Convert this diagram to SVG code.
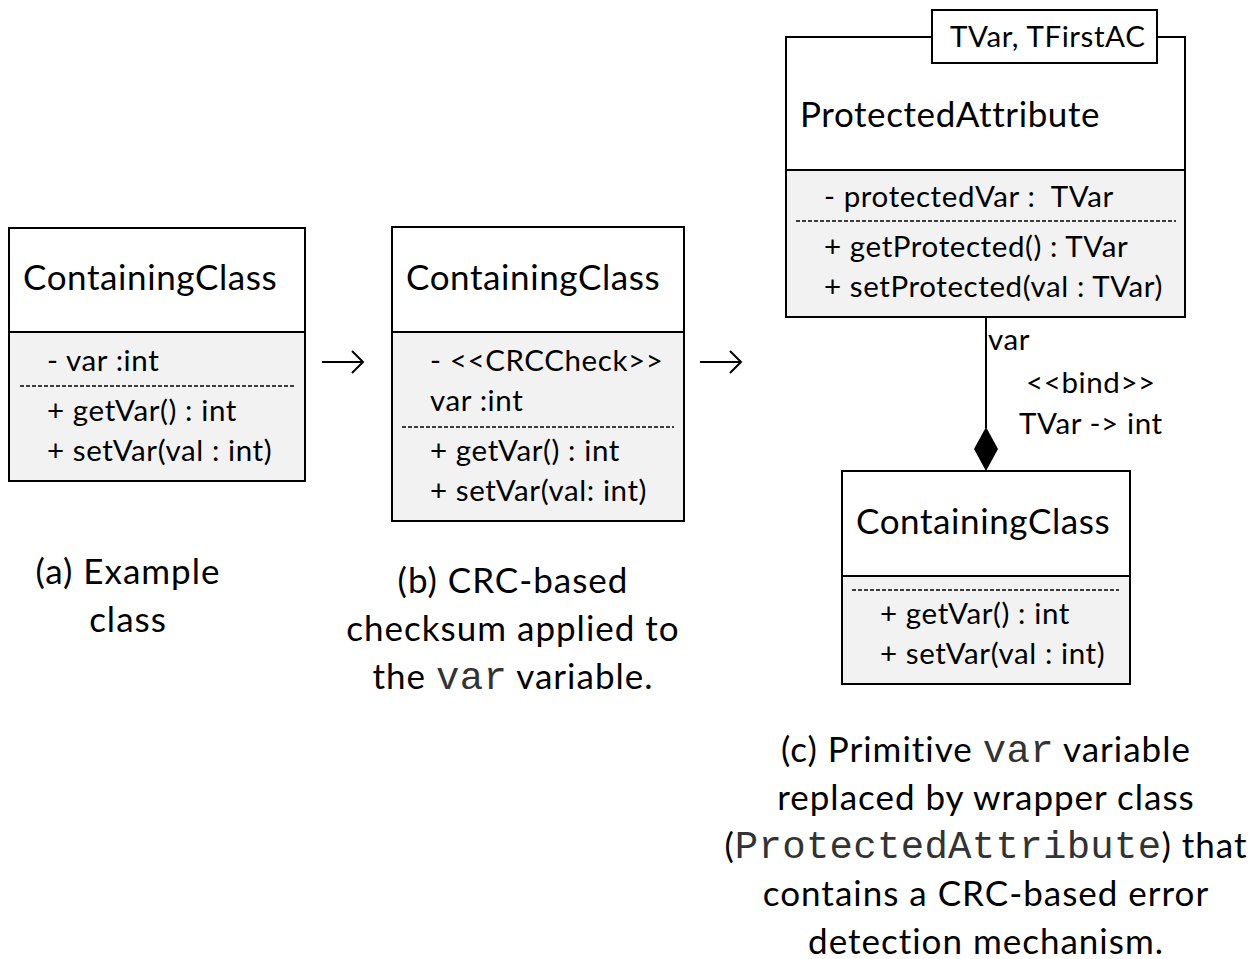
<svg xmlns="http://www.w3.org/2000/svg" width="1255" height="959" viewBox="0 0 1255 959">
<style>
text{font-family:Lato,"Open Sans",sans-serif;fill:#000;font-variant-ligatures:none}
.t{font-size:35px;letter-spacing:0.6px}
.m{font-size:29.5px;letter-spacing:0.6px;white-space:pre}
.cap{font-size:35px;letter-spacing:1px;text-anchor:middle}
.mono{font-family:"Liberation Mono","Courier New",monospace;fill:#333;letter-spacing:0.3px;font-size:39px}
.box{fill:#fff;stroke:#000;stroke-width:2}
.cmp{fill:#f2f2f2;stroke:#000;stroke-width:2}
.dash{stroke:#000;stroke-width:1.5;stroke-dasharray:4 2;fill:none}
.arr{stroke:#000;stroke-width:2;fill:none}
</style>
<g id="classA">
<rect class="box" x="9" y="228" width="296" height="104"/>
<rect class="cmp" x="9" y="332" width="296" height="149"/>
<line class="dash" x1="20" y1="386" x2="295" y2="386"/>
<text class="t" x="23" y="290">ContainingClass</text>
<text class="m" x="47" y="371">- var :int</text>
<text class="m" x="47" y="421">+ getVar() : int</text>
<text class="m" x="47" y="461">+ setVar(val : int)</text>
</g>
<g id="classB">
<rect class="box" x="392" y="227" width="292" height="105"/>
<rect class="cmp" x="392" y="332" width="292" height="189"/>
<line class="dash" x1="402" y1="427" x2="674" y2="427"/>
<text class="t" x="406" y="290">ContainingClass</text>
<text class="m" x="430" y="371">- &lt;&lt;CRCCheck&gt;&gt;</text>
<text class="m" x="430" y="411">var :int</text>
<text class="m" x="430" y="461">+ getVar() : int</text>
<text class="m" x="430" y="501">+ setVar(val: int)</text>
</g>
<g id="protectedAttribute">
<rect class="box" x="786" y="37" width="399" height="133"/>
<rect class="cmp" x="786" y="170" width="399" height="147"/>
<rect class="box" x="932" y="10" width="225" height="53"/>
<line class="dash" x1="796" y1="221" x2="1176" y2="221"/>
<text class="m" x="950" y="47">TVar, TFirstAC</text>
<text class="t" x="800" y="127">ProtectedAttribute</text>
<text class="m" x="824" y="207">- protectedVar :  TVar</text>
<text class="m" x="824" y="257">+ getProtected() : TVar</text>
<text class="m" x="824" y="297">+ setProtected(val : TVar)</text>
</g>
<g id="classD">
<rect class="box" x="842" y="471" width="288" height="105"/>
<rect class="cmp" x="842" y="576" width="288" height="108"/>
<line class="dash" x1="852" y1="590" x2="1119" y2="590"/>
<text class="t" x="856" y="534">ContainingClass</text>
<text class="m" x="880" y="624">+ getVar() : int</text>
<text class="m" x="880" y="664">+ setVar(val : int)</text>
</g>
<g id="connectors">
<line x1="986" y1="317" x2="986" y2="428" stroke="#000" stroke-width="2"/>
<polygon points="986,427 998,449 986,471 974,449" fill="#000"/>
<text class="m" x="988" y="350">var</text>
<text class="m" x="1026" y="393">&lt;&lt;bind&gt;&gt;</text>
<text class="m" x="1019" y="434">TVar -&gt; int</text>
<path class="arr" d="M322,362 H362 M352,351 L363,362 L352,373"/>
<path class="arr" d="M700,362 H740 M730,351 L741,362 L730,373"/>
</g>
<g id="captions">
<text class="cap" x="128" y="584">(a) Example</text>
<text class="cap" x="128" y="632">class</text>
<text class="cap" x="513" y="593">(b) CRC-based</text>
<text class="cap" x="513" y="641">checksum applied to</text>
<text class="cap" x="513" y="689">the <tspan class="mono">var</tspan> variable.</text>
<text class="cap" x="986" y="762">(c) Primitive <tspan class="mono">var</tspan> variable</text>
<text class="cap" x="986" y="810">replaced by wrapper class</text>
<text class="cap" x="986" y="858">(<tspan class="mono">ProtectedAttribute</tspan>) that</text>
<text class="cap" x="986" y="906">contains a CRC-based error</text>
<text class="cap" x="986" y="954">detection mechanism.</text>
</g>
</svg>
